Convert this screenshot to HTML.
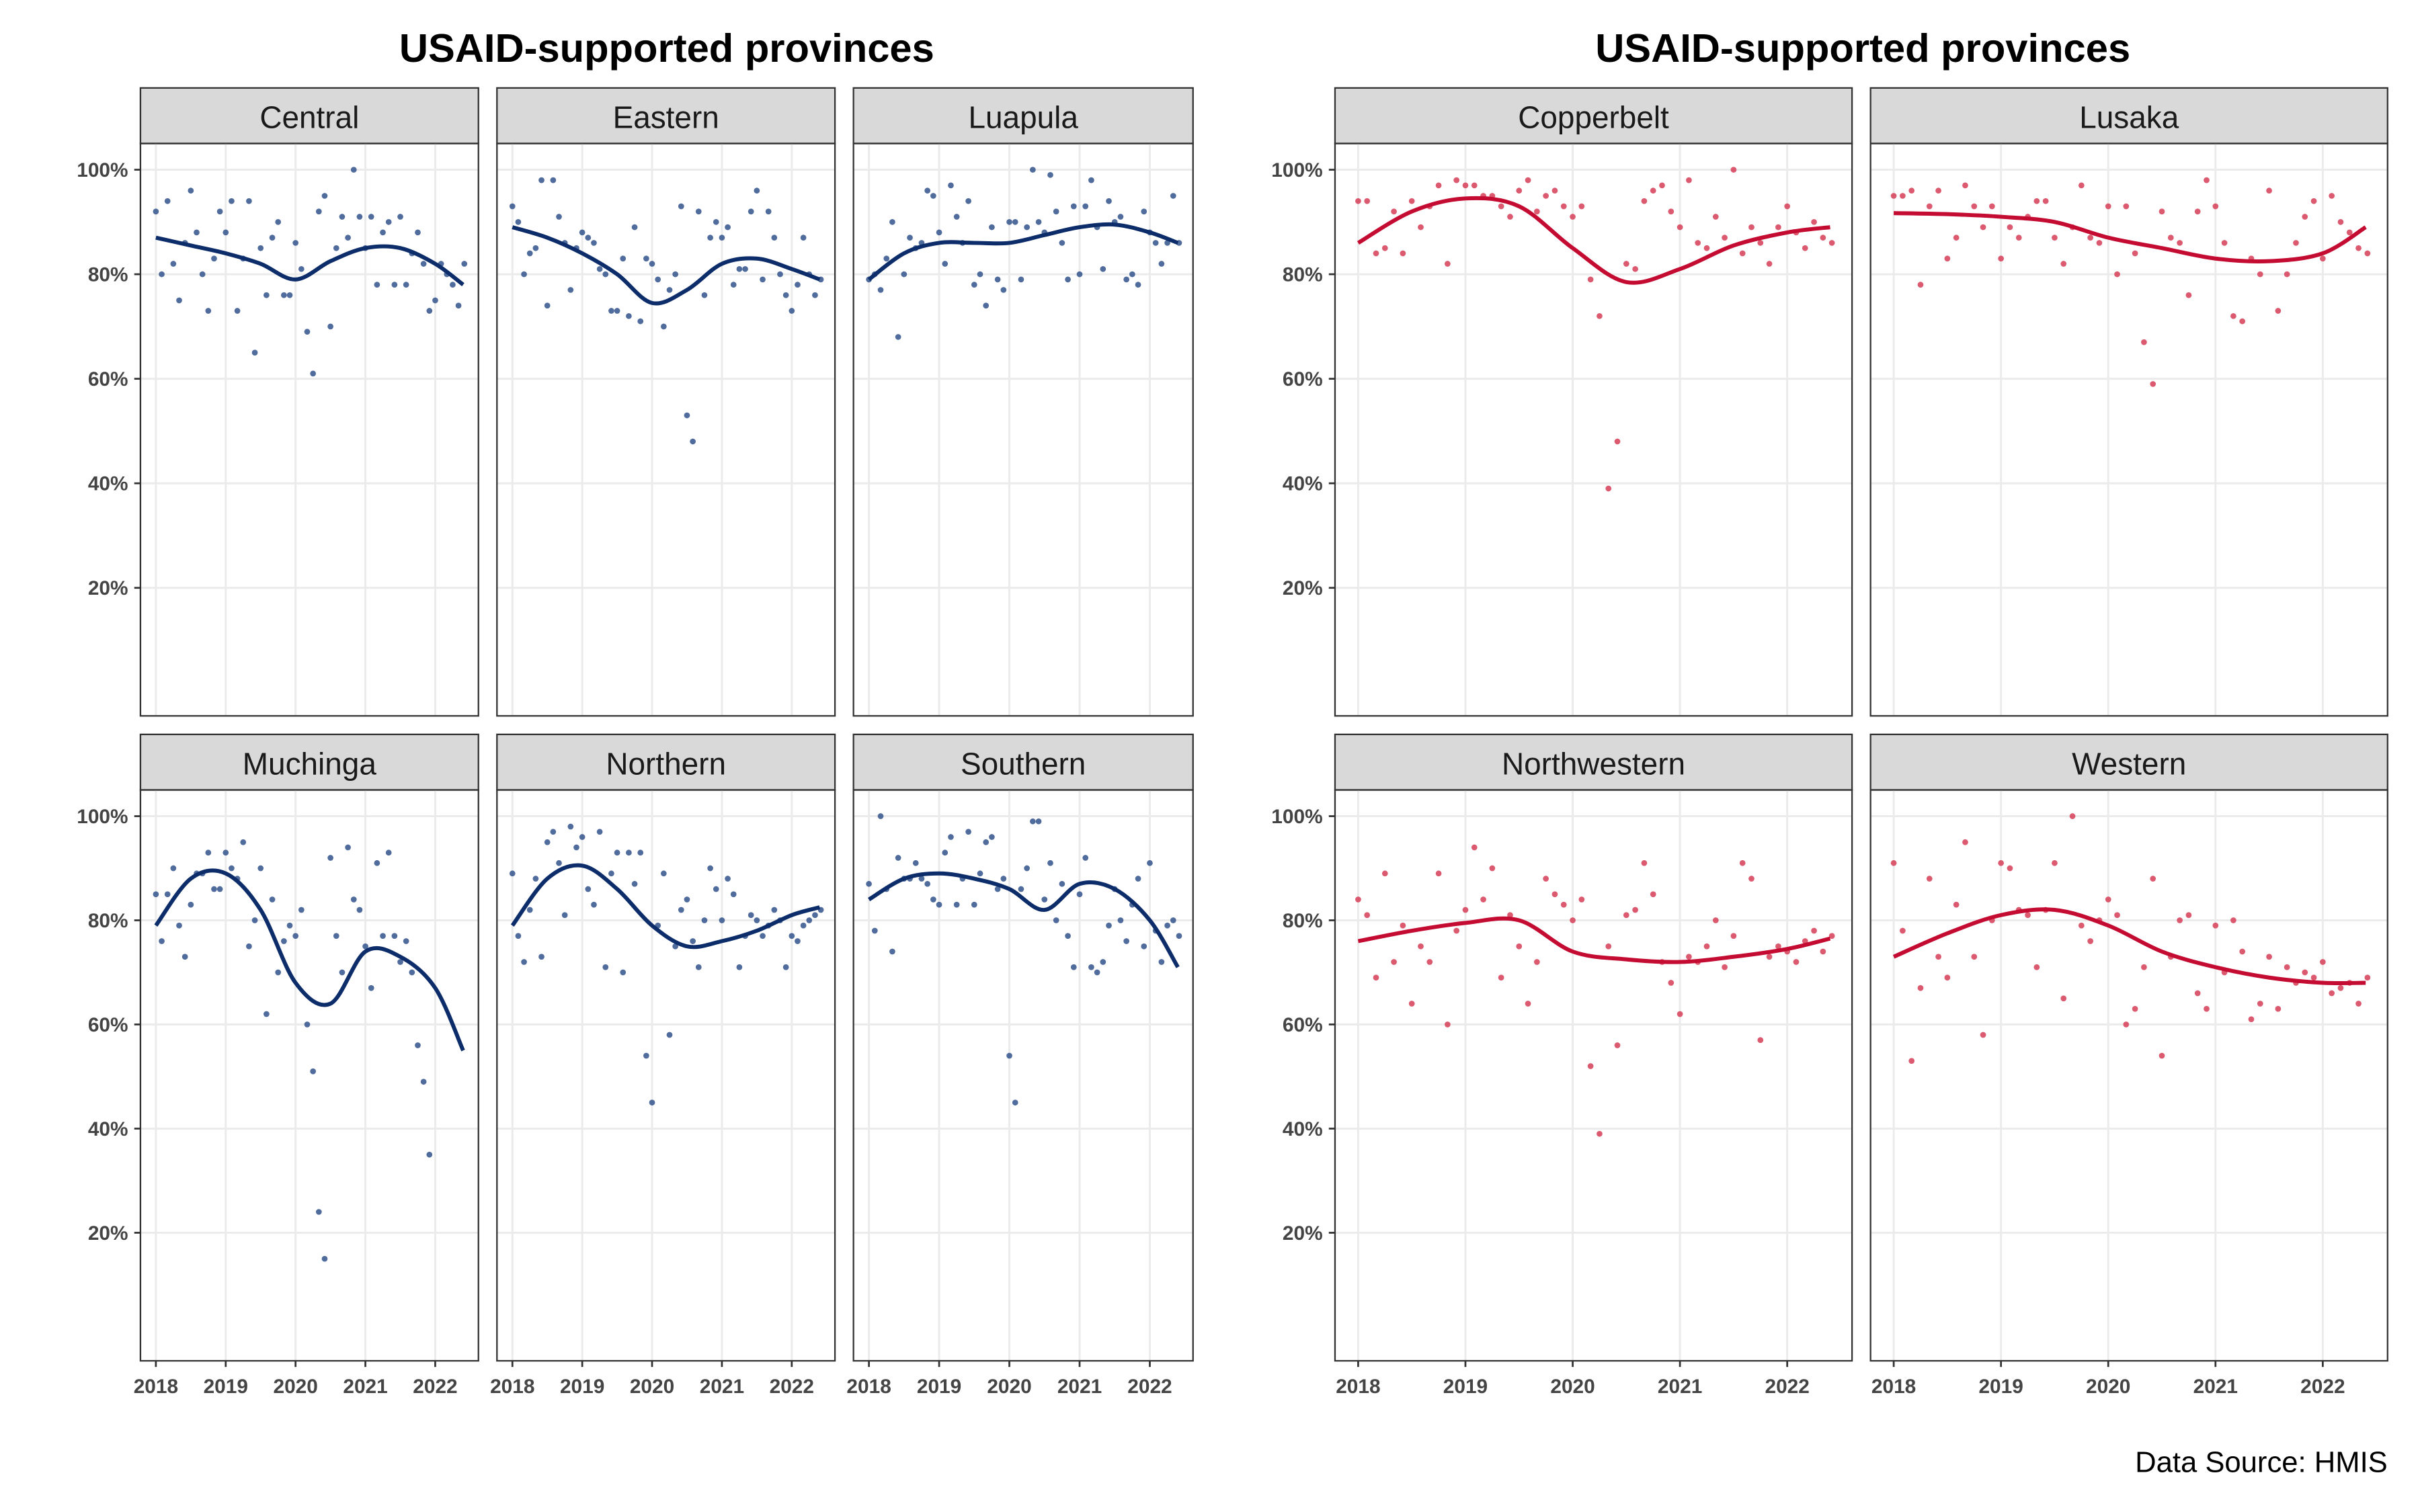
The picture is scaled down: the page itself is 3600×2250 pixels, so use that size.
<!DOCTYPE html>
<html><head><meta charset="utf-8"><style>
html,body{margin:0;padding:0;background:#fff;}
svg{display:block;}
text{font-family:"Liberation Sans",sans-serif;}
</style></head><body>
<svg id="chart" width="3600" height="2250" viewBox="0 0 1568 980" xmlns="http://www.w3.org/2000/svg">
<rect width="1568" height="980" fill="#fff"/>
<text x="432" y="40" text-anchor="middle" font-size="26" font-weight="bold" fill="#000">USAID-supported provinces</text>
<text x="1207" y="40" text-anchor="middle" font-size="26" font-weight="bold" fill="#000">USAID-supported provinces</text>
<text x="1547" y="954" text-anchor="end" font-size="19" fill="#000">Data Source: HMIS</text>
<g id="panels"></g>
</svg>
<script>
const yTicks = [20, 40, 60, 80, 100];
const yTickLabels = ["20%", "40%", "60%", "80%", "100%"];
const xTicks = [2018, 2019, 2020, 2021, 2022];
const xTickLabels = ["2018", "2019", "2020", "2021", "2022"];
const smoothTimes = [2018, 2018.5, 2019, 2019.5, 2020, 2020.5, 2021, 2021.5, 2022, 2022.4];

const centralPts = [92,80,94,82,75,86,96,88,80,73,83,92,88,94,73,83,94,65,85,76,87,90,76,76,86,81,69,61,92,95,70,85,91,87,100,91,85,91,78,88,90,78,91,78,84,88,82,73,75,82,80,78,74,82];
const centralSmooth = [87,85.5,84,82,79,82.5,85,85,82,78];
const easternPts = [93,90,80,84,85,98,74,98,91,86,77,85,88,87,86,81,80,73,73,83,72,89,71,83,82,79,70,77,80,93,53,48,92,76,87,90,87,89,78,81,81,92,96,79,92,87,80,76,73,78,87,80,76,79];
const easternSmooth = [89,87,84,80,74.5,77,82,83,81,79];
const luapulaPts = [79,80,77,83,90,68,80,87,85,86,96,95,88,82,97,91,86,94,78,80,74,89,79,77,90,90,79,89,100,90,88,99,92,86,79,93,80,93,98,89,81,94,90,91,79,80,78,92,88,86,82,86,95,86];
const luapulaSmooth = [79,84,86,86,86,87.5,89,89.5,88,86];
const muchingaPts = [85,76,85,90,79,73,83,89,89,93,86,86,93,90,88,95,75,80,90,62,84,70,76,79,77,82,60,51,24,15,92,77,70,94,84,82,75,67,91,77,93,77,72,76,70,56,49,35];
const muchingaSmooth = [79,88,89,82,68,64,74,73,67,55];
const northernPts = [89,77,72,82,88,73,95,97,91,81,98,94,96,86,83,97,71,89,93,70,93,87,93,54,45,79,89,58,75,82,84,76,71,80,90,86,80,88,85,71,77,81,80,77,79,82,80,71,77,76,79,80,81,82];
const northernSmooth = [79,88,90.5,86,79,75,76,78,81,82.5];
const southernPts = [87,78,100,86,74,92,88,88,91,88,87,84,83,93,96,83,88,97,83,89,95,96,86,88,54,45,86,90,99,99,84,91,80,87,77,71,85,92,71,70,72,79,86,80,76,83,88,75,91,78,72,79,80,77];
const southernSmooth = [84,88,89,88,86,82,87,86,80,71];
const copperbeltPts = [94,94,84,85,92,84,94,89,93,97,82,98,97,97,95,95,93,91,96,98,92,95,96,93,91,93,79,72,39,48,82,81,94,96,97,92,89,98,86,85,91,87,100,84,89,86,82,89,93,88,85,90,87,86];
const copperbeltSmooth = [86,92,94.5,93,85,78.5,81,85.5,88,89];
const lusakaPts = [95,95,96,78,93,96,83,87,97,93,89,93,83,89,87,91,94,94,87,82,89,97,87,86,93,80,93,84,67,59,92,87,86,76,92,98,93,86,72,71,83,80,96,73,80,86,91,94,83,95,90,88,85,84];
const lusakaSmooth = [91.7,91.5,91,90,87,85,83,82.5,84,89];
const northwesternPts = [84,81,69,89,72,79,64,75,72,89,60,78,82,94,84,90,69,81,75,64,72,88,85,83,80,84,52,39,75,56,81,82,91,85,72,68,62,73,72,75,80,71,77,91,88,57,73,75,74,72,76,78,74,77];
const northwesternSmooth = [76,78,79.5,80,74,72.5,72,73,74.5,76.5];
const westernPts = [91,78,53,67,88,73,69,83,95,73,58,80,91,90,82,81,71,82,91,65,100,79,76,80,84,81,60,63,71,88,54,73,80,81,66,63,79,70,80,74,61,64,73,63,71,68,70,69,72,66,67,68,64,69];
const westernSmooth = [73,77.5,81,82,79,74,71,69,68,68];

const NAVY = "#0c2c6a", NAVYPT = "#3d5c91", RED = "#c40b31", REDPT = "#d8485f";
const panels = [
 {name:"Central", x0:91, x1:310, top:true, xlab:false, ylab:true, pts:centralPts, sm:centralSmooth, c:NAVY, pc:NAVYPT},
 {name:"Eastern", x0:322, x1:541, top:true, xlab:false, ylab:false, pts:easternPts, sm:easternSmooth, c:NAVY, pc:NAVYPT},
 {name:"Luapula", x0:553, x1:773, top:true, xlab:false, ylab:false, pts:luapulaPts, sm:luapulaSmooth, c:NAVY, pc:NAVYPT},
 {name:"Muchinga", x0:91, x1:310, top:false, xlab:true, ylab:true, pts:muchingaPts, sm:muchingaSmooth, c:NAVY, pc:NAVYPT},
 {name:"Northern", x0:322, x1:541, top:false, xlab:true, ylab:false, pts:northernPts, sm:northernSmooth, c:NAVY, pc:NAVYPT},
 {name:"Southern", x0:553, x1:773, top:false, xlab:true, ylab:false, pts:southernPts, sm:southernSmooth, c:NAVY, pc:NAVYPT},
 {name:"Copperbelt", x0:865, x1:1200, top:true, xlab:false, ylab:true, pts:copperbeltPts, sm:copperbeltSmooth, c:RED, pc:REDPT},
 {name:"Lusaka", x0:1212, x1:1547, top:true, xlab:false, ylab:false, pts:lusakaPts, sm:lusakaSmooth, c:RED, pc:REDPT},
 {name:"Northwestern", x0:865, x1:1200, top:false, xlab:true, ylab:true, pts:northwesternPts, sm:northwesternSmooth, c:RED, pc:REDPT},
 {name:"Western", x0:1212, x1:1547, top:false, xlab:true, ylab:false, pts:westernPts, sm:westernSmooth, c:RED, pc:REDPT}
];
const NS = "http://www.w3.org/2000/svg";
const root = document.getElementById("panels");
function mk(tag, attrs, parent){const e=document.createElementNS(NS,tag);for(const k in attrs)e.setAttribute(k,attrs[k]);parent.appendChild(e);return e;}

panels.forEach(p=>{
  const g = mk("g",{},root);
  
  
  const stripTop = p.top ? 57 : 476;
  const py0 = stripTop + 36, py1 = p.top ? 464 : 882;
  const y100 = p.top ? 110 : 529, yPer = (p.top ? (381-110) : (799-529)) / 80;
  const yS = v => y100 + (100 - v) * yPer;
  const wide = p.x1 - p.x0 > 300;
  const xStart = p.x0 + (wide ? 15 : 10), xEnd = p.x1 - (wide ? 42 : 28);
  const xS = t => xStart + (t - 2018) * (xEnd - xStart) / 4;
  // strip
  const strip = mk("rect",{x:p.x0,y:stripTop,width:p.x1-p.x0,height:36,fill:"#d9d9d9",stroke:"#333","stroke-width":1},g);
  
  
  const st = mk("text",{x:(p.x0+p.x1)/2,y:stripTop+26,"text-anchor":"middle","font-size":20,fill:"#1a1a1a"},g);
  st.textContent = p.name;
  
  
  // grid
  yTicks.forEach((v,i)=>{
    const ln = mk("line",{x1:p.x0,x2:p.x1,y1:yS(v),y2:yS(v),stroke:"#ebebeb","stroke-width":1.3},g);
    
    
    if(p.ylab){
      mk("line",{x1:p.x0-4,x2:p.x0,y1:yS(v),y2:yS(v),stroke:"#333","stroke-width":1.2},g);
      const tl = mk("text",{x:p.x0-8,y:yS(v)+4.5,"text-anchor":"end","font-size":13,"font-weight":"bold",fill:"#444"},g);
      tl.textContent = yTickLabels[i];
      
      
    }
  });
  xTicks.forEach((t,i)=>{
    const ln = mk("line",{x1:xS(t),x2:xS(t),y1:py0,y2:py1,stroke:"#ebebeb","stroke-width":1.3},g);
    
    
    if(p.xlab){
      mk("line",{x1:xS(t),x2:xS(t),y1:py1,y2:py1+4,stroke:"#333","stroke-width":1.2},g);
      const tl = mk("text",{x:xS(t),y:py1+21,"text-anchor":"middle","font-size":13,"font-weight":"bold",fill:"#444"},g);
      tl.textContent = xTickLabels[i];
      
      
    }
  });
  // points
  p.pts.forEach((v,i)=>{
    const c = mk("circle",{cx:xS(2018+i/12),cy:yS(v),r:1.9,fill:p.pc,"fill-opacity":0.9},g);
    
    
  });
  // smooth line (catmull-rom)
  const P = p.sm.map((v,i)=>[xS(smoothTimes[i]), yS(v)]);
  let d = "M"+P[0][0]+","+P[0][1];
  for(let i=0;i<P.length-1;i++){
    const a=P[Math.max(0,i-1)], b=P[i], c2=P[i+1], e=P[Math.min(P.length-1,i+2)];
    const c1x=b[0]+(c2[0]-a[0])/6, c1y=b[1]+(c2[1]-a[1])/6;
    const c3x=c2[0]-(e[0]-b[0])/6, c3y=c2[1]-(e[1]-b[1])/6;
    d+=" C"+c1x+","+c1y+" "+c3x+","+c3y+" "+c2[0]+","+c2[1];
  }
  const sl = mk("path",{d:d,fill:"none",stroke:p.c,"stroke-width":2.6,"stroke-linecap":"butt"},g);
  
  
  const border = mk("rect",{x:p.x0,y:py0,width:p.x1-p.x0,height:py1-py0,fill:"none",stroke:"#333","stroke-width":1},g);
  
  
});
</script>
</body></html>
